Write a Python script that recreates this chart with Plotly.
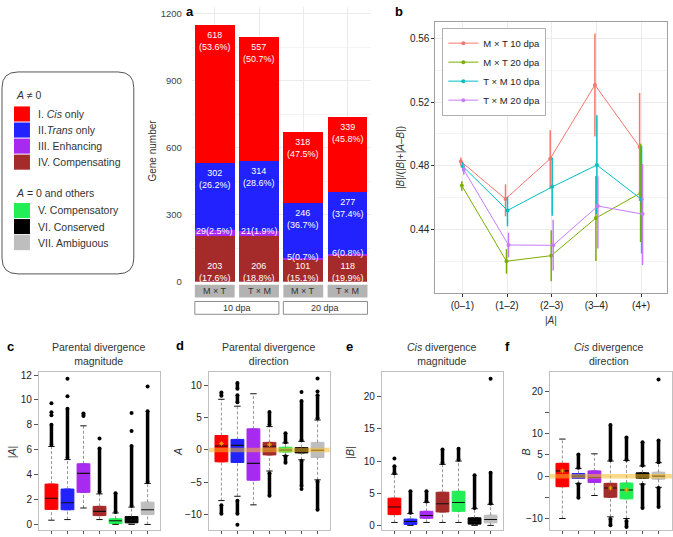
import plotly.graph_objects as go

W, H = 673, 537
FONT = "Liberation Sans, Arial, Helvetica, sans-serif"


def fx(px):
    return px / W


def fy(py):
    return 1 - py / H


# ---------------- colours ----------------
C_CIS = "#FF0000"
C_TRANS = "#2222FF"
C_ENH = "#A62AF0"
C_COMP = "#A52A2A"
C_CPTRY = "#22EE55"
C_CONS = "#000000"
C_AMB = "#BEBEBE"
BOX_COLORS = [C_CIS, C_TRANS, C_ENH, C_COMP, C_CPTRY, C_CONS, C_AMB]

# ---------------- legend (left) ----------------
legend_group1 = ["I. <i>Cis</i> only", "II.<i>Trans</i> only", "III. Enhancing", "IV. Compensating"]
legend_group2 = ["V. Compensatory", "VI. Conserved", "VII. Ambiguous"]

# ---------------- panel a ----------------
a_groups = ["M × T", "T × M", "M × T", "T × M"]
a_stages = ["10 dpa", "20 dpa"]
a_cis = [618, 557, 318, 339]
a_cis_pct = ["53.6%", "50.7%", "47.5%", "45.8%"]
a_trans = [302, 314, 246, 277]
a_trans_pct = ["26.2%", "28.6%", "36.7%", "37.4%"]
a_enh = [29, 21, 5, 6]
a_enh_pct = ["2.5%", "1.9%", "0.7%", "0.8%"]
a_comp = [203, 206, 101, 118]
a_comp_pct = ["17.6%", "18.8%", "15.1%", "19.9%"]
a_yticks = [0, 300, 600, 900, 1200]

# ---------------- panel b ----------------
b_cats = ["(0–1)", "(1–2)", "(2–3)", "(3–4)", "(4+)"]
b_names = ["M × T 10 dpa", "M × T 20 dpa", "T × M 10 dpa", "T × M 20 dpa"]
b_colors = ["#F8766D", "#7CAE00", "#00BFC4", "#C77CFF"]
b_mxt10 = [0.4828, 0.4592, 0.4845, 0.5308, 0.4918]
b_mxt10_lo = [0.4800, 0.4483, 0.4657, 0.4984, 0.4579]
b_mxt10_hi = [0.4853, 0.4684, 0.5024, 0.5631, 0.5257]
b_mxt20 = [0.4676, 0.4201, 0.4236, 0.4472, 0.4630]
b_mxt20_lo = [0.4643, 0.4122, 0.4075, 0.4203, 0.4322]
b_mxt20_hi = [0.4703, 0.4277, 0.4396, 0.4737, 0.4938]
b_txm10 = [0.4797, 0.4520, 0.4668, 0.4805, 0.4589]
b_txm10_lo = [0.4772, 0.4421, 0.4487, 0.4497, 0.4250]
b_txm10_hi = [0.4822, 0.4606, 0.4853, 0.5117, 0.4927]
b_txm20 = [0.4775, 0.4303, 0.4301, 0.4548, 0.4497]
b_txm20_lo = [0.4744, 0.4225, 0.4143, 0.4281, 0.4178]
b_txm20_hi = [0.4806, 0.4380, 0.4462, 0.4733, 0.4811]
b_yticks = [0.44, 0.48, 0.52, 0.56]

# ---------------- panel c: |A| ----------------
c_q1 = [1.21, 1.18, 2.58, 0.71, 0.08, 0.13, 0.79]
c_med = [2.10, 1.74, 4.10, 1.05, 0.29, 0.34, 1.18]
c_q3 = [3.24, 2.84, 4.87, 1.45, 0.45, 0.63, 1.79]
c_lo = [0.34, 0.39, 1.32, 0.39, 0.00, 0.00, 0.00]
c_hi = [6.26, 5.21, 7.92, 2.45, 0.92, 1.39, 3.29]
c_runs = [[(6.4, 8.0)], [(5.35, 9.3)], [(8.7, 8.9)], [(2.6, 6.1)], [(1.0, 2.5)], [(1.5, 6.3)], [(3.4, 9.1)]]
c_pts = [[8.76, 9.0, 9.74], [10.3, 11.7], [], [6.9], [], [7.5, 8.95], [11.08]]
c_ticks = [0, 2, 4, 6, 8, 10, 12]

# ---------------- panel d: A ----------------
d_q1 = [-1.84, -1.94, -4.69, -0.77, -0.31, -0.46, -1.17]
d_med = [0.60, 0.71, -2.09, 0.56, 0.00, 0.00, -0.05]
d_q3 = [2.24, 1.63, 3.27, 1.17, 0.41, 0.36, 1.17]
d_lo = [-7.86, -7.19, -8.52, -3.27, -0.87, -1.53, -4.64]
d_hi = [7.86, 6.79, 8.72, 3.62, 1.07, 1.33, 4.64]
d_runs = [[(8.4, 8.9), (-8.6, -9.9)], [(7.4, 8.5), (9.5, 10.4), (-7.9, -9.9)], [],
          [(3.9, 5.9), (-3.6, -7.1)], [(1.2, 2.6), (-1.0, -2.0)],
          [(1.5, 7.6), (-1.7, -5.6)], [(4.9, 8.5), (-4.9, -9.3)]]
d_pts = [[], [-11.6], [], [], [], [9.0, -6.07], [9.08, 11.1]]
d_means = [1.0, None, None, 0.8, None, None, None]
d_ticks = [-10, -5, 0, 5, 10]

# ---------------- panel e: |B| ----------------
e_q1 = [1.68, 0.15, 1.12, 2.09, 2.19, 0.20, 0.41]
e_med = [2.86, 0.61, 1.53, 3.37, 3.57, 0.56, 0.92]
e_q3 = [4.23, 0.97, 2.19, 5.15, 5.30, 1.17, 1.58]
e_lo = [0.46, 0.00, 0.46, 0.46, 0.46, 0.00, 0.00]
e_hi = [7.96, 1.84, 3.57, 9.49, 10.0, 2.60, 3.27]
e_runs = [[(8.1, 9.2)], [(1.95, 5.3)], [(3.7, 5.3)], [(9.7, 11.8)], [(10.2, 11.9)], [(2.7, 7.8)], [(3.4, 8.2)]]
e_pts = [[10.4], [], [], [], [], [], [22.8]]
e_ticks = [0, 5, 10, 15, 20]

# ---------------- panel f: B ----------------
f_q1 = [-2.48, -0.54, -1.47, -4.96, -5.35, -0.47, -0.70]
f_med = [1.24, 0.00, -0.31, -2.79, -3.26, 0.16, 0.00]
f_q3 = [3.02, 0.62, 1.24, -1.70, -1.63, 0.78, 0.93]
f_lo = [-10.0, -1.70, -4.57, -9.6, -10.0, -1.86, -2.64]
f_hi = [8.76, 1.78, 5.27, 3.57, 3.72, 2.40, 3.18]
f_runs = [[], [(2.0, 5.1), (-1.9, -5.1)], [], [(3.8, 12.1), (-10.1, -11.6)],
          [(3.9, 9.1), (-10.6, -12.0)], [(2.5, 8.0), (-2.0, -7.5)], [(3.3, 8.4), (-2.8, -7.3)]]
f_pts = [[], [], [], [], [], [], [22.8]]
f_means = [1.24, None, None, -2.79, -3.26, None, None]
f_ticks = [-10, -5, 0, 5, 10, 15, 20]
f_ticktext = ["−10", "", "0", "5", "10", "", "20"]

fig = go.Figure()
annotations = []
shapes = []


def ann(px, py, text, size=10, xanchor="center", yanchor="middle", angle=0, color="#333333"):
    annotations.append(dict(x=fx(px), y=fy(py), xref="paper", yref="paper", text=text,
                            showarrow=False, xanchor=xanchor, yanchor=yanchor, textangle=angle,
                            font=dict(size=size, color=color, family=FONT)))


def prect(x0, y0, x1, y1, fill, line_color=None, lw=0):
    shapes.append(dict(type="rect", xref="paper", yref="paper", x0=fx(x0), x1=fx(x1),
                       y0=fy(y1), y1=fy(y0), fillcolor=fill,
                       line=dict(color=line_color or fill, width=lw), layer="above"))


def rrect_path(x0, y0, x1, y1, r):
    def P(px, py):
        return f"{fx(px):.5f},{fy(py):.5f}"
    return (f"M {P(x0 + r, y0)} L {P(x1 - r, y0)} Q {P(x1, y0)} {P(x1, y0 + r)} "
            f"L {P(x1, y1 - r)} Q {P(x1, y1)} {P(x1 - r, y1)} L {P(x0 + r, y1)} "
            f"Q {P(x0, y1)} {P(x0, y1 - r)} L {P(x0, y0 + r)} Q {P(x0, y0)} {P(x0 + r, y0)} Z")


# ================= left legend =================
shapes.append(dict(type="path", xref="paper", yref="paper", path=rrect_path(2, 70, 134, 275, 16),
                   line=dict(color="#555555", width=1), fillcolor="rgba(0,0,0,0)"))
ann(14, 93, "<i>A</i> ≠ 0", size=10.5, xanchor="left")
g1_colors = [C_CIS, C_TRANS, C_ENH, C_COMP]
for k, (lab, col) in enumerate(zip(legend_group1, g1_colors)):
    top = 105 + k * 16.3
    prect(14, top, 30, top + 15.3, col)
    ann(36, top + 7.6, lab, size=10.5, xanchor="left")
ann(14, 193, "<i>A</i> = 0 and others", size=10.5, xanchor="left")
g2_colors = [C_CPTRY, C_CONS, C_AMB]
for k, (lab, col) in enumerate(zip(legend_group2, g2_colors)):
    top = 203 + k * 16.3
    prect(14, top, 30, top + 15.3, col)
    ann(36, top + 7.6, lab, size=10.5, xanchor="left")

# ================= panel a =================
A_X0, A_X1, A_TOP, A_BOT = 192, 372, 4, 283
a_xr = [-0.52, 3.54]
a_yr = [0, (A_BOT - A_TOP) / (272 / 1200)]
a_x = list(range(len(a_groups)))
for vals, col in [(a_comp, C_COMP), (a_enh, C_ENH), (a_trans, C_TRANS), (a_cis, C_CIS)]:
    fig.add_trace(go.Bar(x=a_x, y=vals, width=0.9, marker=dict(color=col, line=dict(width=0)),
                         xaxis="x", yaxis="y", showlegend=False, hoverinfo="skip"))

lab_font = dict(size=9, color="white", family=FONT)
for i in a_x:
    base_t = a_comp[i] + a_enh[i]
    tot = base_t + a_trans[i] + a_cis[i]
    annotations.append(dict(x=i, y=tot, xref="x", yref="y", yanchor="top", yshift=-3, showarrow=False,
                            text=f"{a_cis[i]}<br>({a_cis_pct[i]})", font=lab_font))
    annotations.append(dict(x=i, y=base_t + a_trans[i], xref="x", yref="y", yanchor="top", yshift=-3,
                            showarrow=False, text=f"{a_trans[i]}<br>({a_trans_pct[i]})", font=lab_font))
    annotations.append(dict(x=i, y=a_comp[i] + a_enh[i] / 2, xref="x", yref="y", yanchor="middle",
                            yshift=2, showarrow=False, text=f"{a_enh[i]}({a_enh_pct[i]})", font=lab_font))
    annotations.append(dict(x=i, y=0, xref="x", yref="y", yanchor="bottom", yshift=-3, showarrow=False,
                            text=f"{a_comp[i]}<br>({a_comp_pct[i]})", font=lab_font))


def a_px(xv):
    return A_X0 + (xv - a_xr[0]) / (a_xr[1] - a_xr[0]) * (A_X1 - A_X0)


for i in a_x:
    prect(a_px(i - 0.45), 286, a_px(i + 0.45), 299, "#B3B3B3")
    ann(a_px(i), 292.5, a_groups[i], size=9)
for s, stage in enumerate(a_stages):
    prect(a_px(2 * s - 0.45), 303, a_px(2 * s + 1.45), 316, "white", "#8C8C8C", 1)
    ann(a_px(2 * s + 0.5), 309.5, stage, size=9)
ann(153, 150, "Gene number", size=10, angle=-90)

# ================= panel b =================
B_X0, B_X1, B_TOP, B_BOT = 436, 668, 19, 294
b_means = [b_mxt10, b_mxt20, b_txm10, b_txm20]
b_los = [b_mxt10_lo, b_mxt20_lo, b_txm10_lo, b_txm20_lo]
b_his = [b_mxt10_hi, b_mxt20_hi, b_txm10_hi, b_txm20_hi]
for k in range(4):
    off = (k - 1.5) * 0.022
    xs = [i + off for i in range(len(b_cats))]
    m, lo, hi = b_means[k], b_los[k], b_his[k]
    fig.add_trace(go.Scatter(
        x=xs, y=m, mode="lines+markers", name=b_names[k],
        line=dict(color=b_colors[k], width=1), marker=dict(size=4, color=b_colors[k]),
        error_y=dict(type="data", symmetric=False, array=[h - v for h, v in zip(hi, m)],
                     arrayminus=[v - l for v, l in zip(m, lo)], width=0, thickness=1.5,
                     color=b_colors[k]),
        xaxis="x2", yaxis="y2", hoverinfo="skip"))
ann(401, 157, "|<i>B</i>|/(|<i>B</i>|+|<i>A</i>–<i>B</i>|)", size=10, angle=-90)
ann(552, 322, "|<i>A</i>|", size=10)

# ================= box panels =================
POS = list(range(1, 8))


def add_box_panel(n, q1, med, q3, lo, hi, runs, pts, means=None, zero=False, colors=BOX_COLORS):
    xa, ya = f"x{n}", f"y{n}"
    wx, wy = [], []
    for p, a, b, l, h in zip(POS, q1, q3, lo, hi):
        wx += [p, p, None, p, p, None]
        wy += [l, a, None, b, h, None]
    fig.add_trace(go.Scatter(x=wx, y=wy, mode="lines", line=dict(color="#7A7A7A", width=0.8, dash="3px,2px"),
                             xaxis=xa, yaxis=ya, showlegend=False, hoverinfo="skip"))
    for p, a, m_, b, col in zip(POS, q1, med, q3, colors):
        fig.add_trace(go.Box(x=[p], q1=[a], median=[m_], q3=[b], lowerfence=[a], upperfence=[b],
                             width=0.8, fillcolor=col, line=dict(color=col, width=1),
                             boxpoints=False, xaxis=xa, yaxis=ya, showlegend=False, hoverinfo="skip"))
    mx, my = [], []
    for p, m_ in zip(POS, med):
        mx += [p - 0.4, p + 0.4, None]
        my += [m_, m_, None]
    fig.add_trace(go.Scatter(x=mx, y=my, mode="lines", line=dict(color="#111111", width=1.1),
                             xaxis=xa, yaxis=ya, showlegend=False, hoverinfo="skip"))
    cx, cy = [], []
    for p, l, h in zip(POS, lo, hi):
        cx += [p - 0.2, p + 0.2, None, p - 0.2, p + 0.2, None]
        cy += [l, l, None, h, h, None]
    fig.add_trace(go.Scatter(x=cx, y=cy, mode="lines", line=dict(color="#111111", width=1),
                             xaxis=xa, yaxis=ya, showlegend=False, hoverinfo="skip"))
    rx, ry = [], []
    for p, rl in zip(POS, runs):
        for (r0, r1) in rl:
            rx += [p, p, None]
            ry += [r0, r1, None]
    if rx:
        fig.add_trace(go.Scatter(x=rx, y=ry, mode="lines+markers", line=dict(color="black", width=3.5),
                                 marker=dict(size=4, color="black"),
                                 xaxis=xa, yaxis=ya, showlegend=False, hoverinfo="skip"))
    px_, py_ = [], []
    for p, pl in zip(POS, pts):
        for v in pl:
            px_.append(p)
            py_.append(v)
    if px_:
        fig.add_trace(go.Scatter(x=px_, y=py_, mode="markers", marker=dict(size=4, color="black"),
                                 xaxis=xa, yaxis=ya, showlegend=False, hoverinfo="skip"))
    if zero:
        fig.add_trace(go.Scatter(x=[0, 8], y=[0, 0], mode="lines",
                                 line=dict(color="rgba(245,185,40,0.55)", width=4.5),
                                 xaxis=xa, yaxis=ya, showlegend=False, hoverinfo="skip"))
    if means:
        mxs = [p for p, v in zip(POS, means) if v is not None]
        mys = [v for v in means if v is not None]
        fig.add_trace(go.Scatter(x=mxs, y=mys, mode="markers",
                                 marker=dict(symbol="asterisk-open", size=4, color="#F5B000",
                                             line=dict(width=0.8, color="#F5B000")),
                                 xaxis=xa, yaxis=ya, showlegend=False, hoverinfo="skip"))


add_box_panel(3, c_q1, c_med, c_q3, c_lo, c_hi, c_runs, c_pts)
add_box_panel(4, d_q1, d_med, d_q3, d_lo, d_hi, d_runs, d_pts, means=d_means, zero=True)
add_box_panel(5, e_q1, e_med, e_q3, e_lo, e_hi, e_runs, e_pts)
add_box_panel(6, f_q1, f_med, f_q3, f_lo, f_hi, f_runs, f_pts, means=f_means, zero=True)

BOX_TOP, BOX_BOT = 375, 535
box_x = {3: (39, 160), 4: (209.2, 330.2), 5: (382.5, 503.5), 6: (550.7, 673)}
box_yr = {3: [-0.45, 12.21], 4: [-12.43, 12.03], 5: [-0.72, 23.78], 6: [-12.72, 24.5]}
box_ticks = {3: (c_ticks, [str(t) for t in c_ticks]),
             4: (d_ticks, [str(t).replace("-", "−") for t in d_ticks]),
             5: (e_ticks, [str(t) for t in e_ticks]),
             6: (f_ticks, f_ticktext)}
box_titles = {3: "Parental divergence<br>magnitude", 4: "Parental divergence<br>direction",
              5: "<i>Cis</i> divergence<br>magnitude", 6: "<i>Cis</i> divergence<br>direction"}
box_ytitles = {3: ("|<i>A</i>|", 12), 4: ("<i>A</i>", 178), 5: ("|<i>B</i>|", 351), 6: ("<i>B</i>", 527)}

layout_axes = {}
for n in (3, 4, 5, 6):
    x0, x1 = box_x[n]
    unit = 16.05
    xr = [0.22, 0.22 + (x1 - x0) / unit]
    layout_axes[f"xaxis{n}"] = dict(domain=[fx(x0), min(1.0, fx(x1))], range=xr, anchor=f"y{n}",
                                    tickvals=POS, showticklabels=False, ticks="outside", ticklen=3,
                                    tickcolor="#555555", showline=True, linecolor="#C0C0C0", mirror=True,
                                    showgrid=False, zeroline=False)
    tv, tt = box_ticks[n]
    layout_axes[f"yaxis{n}"] = dict(domain=[fy(BOX_BOT), fy(BOX_TOP)], range=box_yr[n], anchor=f"x{n}",
                                    tickvals=tv, ticktext=tt, ticks="outside", ticklen=4,
                                    tickcolor="#555555", tickfont=dict(size=10, color="#222222"),
                                    showline=True, linecolor="#C0C0C0", mirror=True,
                                    showgrid=False, zeroline=False)
    ann((x0 + min(x1, 670)) / 2, 356, box_titles[n], size=10.5)
    t, xpos = box_ytitles[n]
    ann(xpos, 456, t, size=10.5, angle=-90)

# panel letters
for letter, (lx, ly) in {"a": (190, 9), "b": (400, 9), "c": (11, 349), "d": (180, 348),
                         "e": (350, 349), "f": (508, 349)}.items():
    ann(lx, ly, f"<b>{letter}</b>", size=13, color="black")

fig.update_layout(
    width=W, height=H, margin=dict(l=0, r=0, t=0, b=0),
    paper_bgcolor="white", plot_bgcolor="white",
    font=dict(family=FONT, size=10, color="#333333"),
    barmode="stack", bargap=0.1,
    xaxis=dict(domain=[fx(A_X0), fx(A_X1)], range=a_xr, anchor="y", tickvals=a_x, showticklabels=False,
               showgrid=True, gridcolor="#EBEBEB", zeroline=False, ticks=""),
    yaxis=dict(domain=[fy(A_BOT), fy(A_TOP)], range=a_yr, anchor="x", tickvals=a_yticks,
               showgrid=True, gridcolor="#EBEBEB", zeroline=False, ticks="outside", ticklen=7,
               tickcolor="rgba(0,0,0,0)", tickfont=dict(size=9.5, color="#444444"),
               minor=dict(tickvals=[150, 450, 750, 1050], showgrid=True, gridcolor="#F4F4F4", ticks="")),
    xaxis2=dict(domain=[fx(B_X0), fx(B_X1)], range=[-0.603, 4.58], anchor="y2",
                tickvals=list(range(len(b_cats))), ticktext=b_cats, showgrid=True, gridcolor="#EBEBEB",
                zeroline=False, ticks="outside", ticklen=3, tickcolor="#333333",
                showline=True, linecolor="#A0A0A0", mirror=True, tickfont=dict(size=10, color="#222222")),
    yaxis2=dict(domain=[fy(B_BOT), fy(B_TOP)], range=[0.4004, 0.5705], anchor="x2", tickvals=b_yticks,
                tickformat=".2f", showgrid=True, gridcolor="#EBEBEB", zeroline=False, ticks="outside",
                ticklen=3, tickcolor="#333333", showline=True, linecolor="#A0A0A0", mirror=True,
                tickfont=dict(size=10, color="#222222"),
                minor=dict(tickvals=[0.42, 0.46, 0.50, 0.54], showgrid=True, gridcolor="#F4F4F4", ticks="")),
    legend=dict(x=fx(443), y=fy(25), xanchor="left", yanchor="top", bgcolor="white",
                bordercolor="#B0B0B0", borderwidth=1, font=dict(size=9.5, color="#222222"),
                itemwidth=30, tracegroupgap=0, traceorder="normal"),
    annotations=annotations, shapes=shapes,
    **layout_axes,
)

fig.write_html("out.html", config={"displayModeBar": False},
               post_script="document.body.style.margin='0px';document.body.style.overflow='hidden';")
